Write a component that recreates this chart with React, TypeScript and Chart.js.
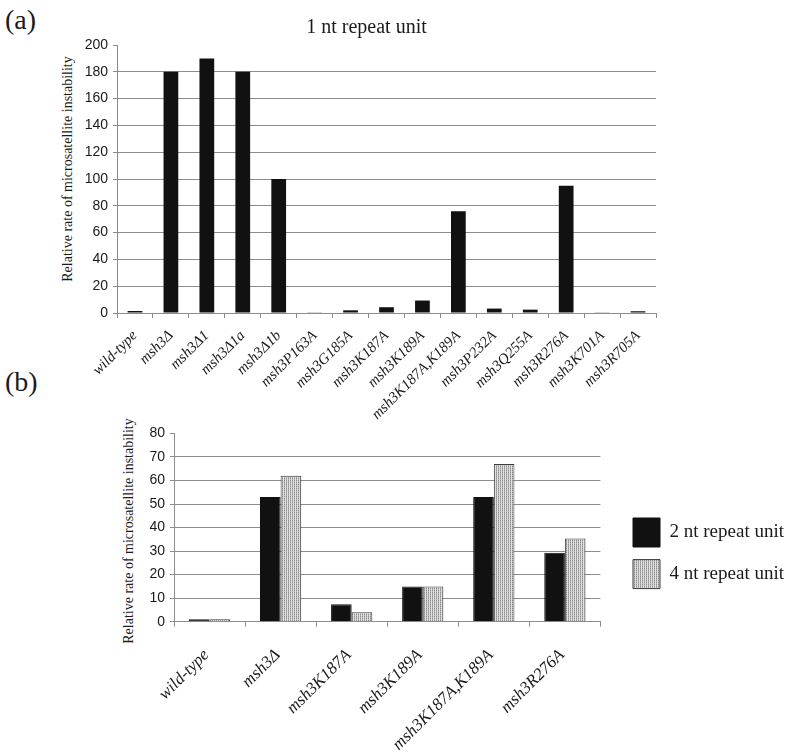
import React, { useEffect, useRef } from 'react';
import { Chart, registerables } from 'chart.js';
Chart.register(...registerables);

const labelsA = ['wild-type', 'msh3Δ', 'msh3Δ1', 'msh3Δ1a', 'msh3Δ1b', 'msh3P163A', 'msh3G185A', 'msh3K187A', 'msh3K189A', 'msh3K187A,K189A', 'msh3P232A', 'msh3Q255A', 'msh3R276A', 'msh3K701A', 'msh3R705A'];
const valuesA = [1.5, 180, 190, 180, 100, 0.5, 2, 4.3, 9.3, 76, 3.3, 2.5, 95, 0.5, 1.3];
const titleA = '1 nt repeat unit';
const yTitle = 'Relative rate of microsatellite instability';
const yTicksA = { min: 0, max: 200, step: 20 };

const labelsB = ['wild-type', 'msh3Δ', 'msh3K187A', 'msh3K189A', 'msh3K187A,K189A', 'msh3R276A'];
const values2nt = [1, 53, 7.4, 15, 53, 29.3];
const values4nt = [1, 62, 4, 15, 67, 35.4];
const seriesNames = ['2 nt repeat unit', '4 nt repeat unit'];
const yTicksB = { min: 0, max: 80, step: 10 };

const SERIF = '"Liberation Serif", "Times New Roman", serif';
const SANS = '"Liberation Sans", Arial, sans-serif';
const GRID = '#8c8c8c';
const TEXT = '#1a1a1a';

// legend position inside canvas B (canvas coordinates)
const LEGEND_X = 633;
const LEGEND_Y = 98;

function makePattern(): CanvasPattern | string {
  const c = document.createElement('canvas');
  c.width = 2;
  c.height = 2;
  const g = c.getContext('2d');
  if (!g) return '#cccccc';
  g.fillStyle = '#e0e0e0';
  g.fillRect(0, 0, 2, 2);
  g.fillStyle = '#8a8a8a';
  g.fillRect(0, 0, 1, 1);
  g.fillStyle = '#b4b4b4';
  g.fillRect(0, 1, 1, 1);
  const p = g.createPattern(c, 'repeat');
  return p || '#cccccc';
}

const legendPlace = {
  id: 'legendPlace',
  afterLayout(chart: any) {
    const lg = chart.legend;
    if (!lg) return;
    const p = lg.options.labels.padding;
    const dx = LEGEND_X - p - lg.left;
    const dy = LEGEND_Y - p - lg.top;
    lg.left += dx;
    lg.right += dx;
    lg.top += dy;
    lg.bottom += dy;
  },
};

const rotTitle = (cx: number, cy: number): React.CSSProperties => ({
  position: 'absolute',
  left: cx,
  top: cy,
  transform: 'translate(-50%, -50%) rotate(-90deg)',
  whiteSpace: 'nowrap',
  fontFamily: SERIF,
  fontSize: 14,
  lineHeight: '16px',
  color: TEXT,
});

export default function App() {
  const refA = useRef<HTMLCanvasElement>(null);
  const refB = useRef<HTMLCanvasElement>(null);

  useEffect(() => {
    if (!refA.current || !refB.current) return;
    const gridColorA = (ctx: any) => (ctx.tick && ctx.tick.value === yTicksA.max ? 'rgba(0,0,0,0)' : GRID);
    const gridColorB = (ctx: any) => (ctx.tick && ctx.tick.value === yTicksB.max ? 'rgba(0,0,0,0)' : GRID);

    const ca = new Chart(refA.current, {
      type: 'bar',
      data: {
        labels: labelsA,
        datasets: [
          {
            label: titleA,
            data: valuesA,
            backgroundColor: '#111111',
            borderWidth: 0,
            barPercentage: 0.41,
            categoryPercentage: 1,
          },
        ],
      },
      options: {
        responsive: false,
        animation: false,
        devicePixelRatio: 1,
        layout: { padding: { top: 0, right: 0, bottom: 0, left: 0 } },
        plugins: {
          legend: { display: false },
          tooltip: { enabled: false },
          title: {
            display: true,
            text: titleA,
            color: TEXT,
            font: { family: SERIF, size: 20, weight: 'normal' },
            padding: { top: 16, bottom: 5 },
          },
        },
        scales: {
          x: {
            grid: { offset: true, drawOnChartArea: false, drawTicks: true, tickLength: 5, color: GRID },
            border: { color: GRID },
            ticks: {
              autoSkip: false,
              minRotation: 45,
              maxRotation: 45,
              padding: 9,
              color: TEXT,
              font: { family: SERIF, size: 15, style: 'italic' },
            },
            afterFit: (s: any) => {
              s.height = 112;
            },
          },
          y: {
            min: yTicksA.min,
            max: yTicksA.max,
            grid: { color: gridColorA, tickColor: GRID, tickLength: 4 },
            border: { color: GRID },
            ticks: { stepSize: yTicksA.step, padding: 5, color: TEXT, font: { family: SANS, size: 14 } },
            afterFit: (s: any) => {
              s.width = 117;
            },
          },
          yRight: {
            type: 'linear',
            position: 'right',
            display: true,
            grid: { display: false, drawTicks: false },
            border: { display: false },
            ticks: { display: false },
            afterFit: (s: any) => {
              s.width = 77;
            },
          },
        },
      } as any,
    });

    const pattern = makePattern();
    const cb = new Chart(refB.current, {
      type: 'bar',
      data: {
        labels: labelsB,
        datasets: [
          {
            label: seriesNames[0],
            data: values2nt,
            backgroundColor: '#111111',
            borderColor: '#111111',
            borderWidth: 1,
            barPercentage: 1,
            categoryPercentage: 0.58,
          },
          {
            label: seriesNames[1],
            data: values4nt,
            backgroundColor: pattern as any,
            borderColor: '#3a3a3a',
            borderWidth: 1,
            barPercentage: 1,
            categoryPercentage: 0.58,
          },
        ],
      },
      options: {
        responsive: false,
        animation: false,
        devicePixelRatio: 1,
        layout: { padding: { top: 13, right: 26, bottom: 0, left: 0 } },
        plugins: {
          tooltip: { enabled: false },
          title: { display: false },
          legend: {
            display: true,
            position: 'right',
            align: 'start',
            labels: {
              boxWidth: 27,
              boxHeight: 29,
              padding: 12.6,
              color: TEXT,
              font: { family: SERIF, size: 19 },
            },
          },
        },
        scales: {
          x: {
            grid: { offset: true, drawOnChartArea: false, drawTicks: true, tickLength: 5, color: GRID },
            border: { color: GRID },
            ticks: {
              autoSkip: false,
              minRotation: 45,
              maxRotation: 45,
              padding: 18.5,
              labelOffset: -3,
              color: TEXT,
              font: { family: SERIF, size: 17, style: 'italic' },
            },
            afterFit: (s: any) => {
              s.height = 134.3;
            },
          },
          y: {
            min: yTicksB.min,
            max: yTicksB.max,
            grid: { color: gridColorB, tickColor: GRID, tickLength: 4 },
            border: { color: GRID },
            ticks: { stepSize: yTicksB.step, padding: 5, color: TEXT, font: { family: SANS, size: 14 } },
            afterFit: (s: any) => {
              s.width = 174;
            },
          },
        },
      } as any,
      plugins: [legendPlace],
    });

    return () => {
      ca.destroy();
      cb.destroy();
    };
  }, []);

  return (
    <div style={{ position: 'absolute', left: 0, top: 0, width: 800, height: 756, background: '#fff', overflow: 'hidden' }}>
      <div style={{ position: 'absolute', left: 5, top: 5, fontFamily: SERIF, fontSize: 28, lineHeight: '30px', color: TEXT }}>(a)</div>
      <div style={{ position: 'absolute', left: 5, top: 367, fontFamily: SERIF, fontSize: 28, lineHeight: '30px', color: TEXT }}>(b)</div>
      <div style={rotTitle(68, 169)}>{yTitle}</div>
      <div style={rotTitle(129, 531)}>{yTitle}</div>
      <canvas ref={refA} width={733} height={425} style={{ position: 'absolute', left: 0, top: 0 }} />
      <canvas ref={refB} width={800} height={336} style={{ position: 'absolute', left: 0, top: 420 }} />
    </div>
  );
}
